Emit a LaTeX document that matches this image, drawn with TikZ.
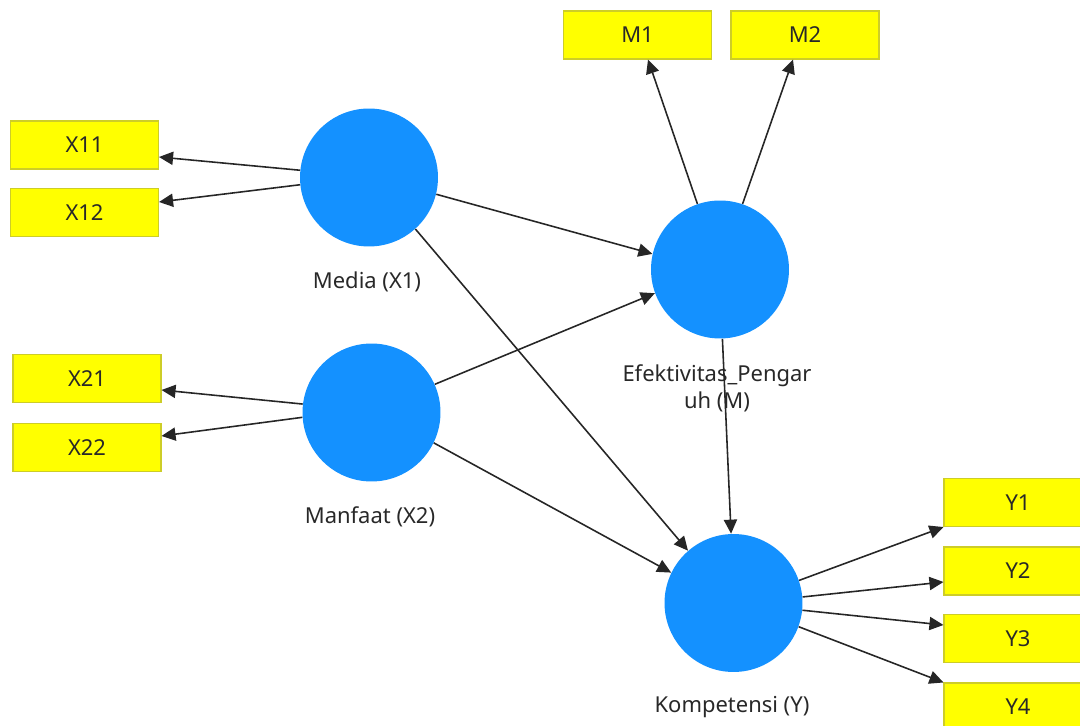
\documentclass[tikz,border=0pt]{standalone}
\usepackage{fontspec}
\setmainfont{Noto Sans}
\usetikzlibrary{arrows.meta}
\definecolor{lvblue}{RGB}{20,145,255}
\definecolor{mvyellow}{RGB}{255,255,0}
\definecolor{mvborder}{RGB}{205,205,40}
\definecolor{txt}{RGB}{40,40,40}
\begin{document}
\begin{tikzpicture}[x=0.02cm,y=-0.02cm,
  ind/.style={draw=mvborder, line width=0.6pt, fill=mvyellow, minimum width=2.96cm, minimum height=0.96cm, inner sep=0pt, font=\fontsize{12.5pt}{15pt}\selectfont, text=txt},
  lv/.style={circle, fill=lvblue, minimum size=2.76cm, inner sep=0pt},
  lbl/.style={font=\fontsize{12.5pt}{15.3pt}\selectfont, text=txt, align=center, inner sep=0pt},
  arr/.style={draw=black!85, line width=0.9pt, -{Triangle[length=8pt,width=7.5pt]}}]
\useasboundingbox (0,0) rectangle (1080,726);
\clip (0,0) rectangle (1080,726);
% indicators
\node[ind] (x11) at (84.5,145) {X11};
\node[ind] (x12) at (84.5,212.5) {X12};
\node[ind] (x21) at (87,378.5) {X21};
\node[ind] (x22) at (87,447.5) {X22};
\node[ind] (m1) at (637.5,35) {M1};
\node[ind] (m2) at (805,35) {M2};
\node[ind] (y1) at (1018,502.5) {Y1};
\node[ind] (y2) at (1018,571) {Y2};
\node[ind] (y3) at (1018,638.5) {Y3};
\node[ind] (y4) at (1018,707) {Y4};
% latent variables
\node[lv] (media) at (369,177.5) {};
\node[lv] (manfaat) at (371.5,412.5) {};
\node[lv] (efek) at (720,269.5) {};
\node[lv] (komp) at (733.5,603) {};
% labels
\node[lbl] (medialbl) at (367,282) {Media (X1)};
\node[lbl] (manfaatlbl) at (370,517) {Manfaat (X2)};
\node[lbl] (efeklbl) at (717,388.5) {Efektivitas\_Pengar\\uh (M)};
\node[lbl] (komplbl) at (732,707) {Kompetensi (Y)};
% outer model arrows
\draw[arr] (media.174.6) -- ([yshift=-0.24cm]x11.east);
\draw[arr] (media.186.2) -- ([yshift=0.21cm]x12.east);
\draw[arr] (manfaat.173.8) -- ([yshift=-0.23cm]x21.east);
\draw[arr] (manfaat.184.5) -- ([yshift=0.23cm]x22.east);
\draw[arr] (efek.109) -- ([xshift=0.21cm]m1.south);
\draw[arr] (efek.71) -- ([xshift=-0.24cm]m2.south);
\draw[arr] (komp.19) -- (y1.south west);
\draw[arr] (komp.5) -- ([yshift=-0.22cm]y2.west);
\draw[arr] (komp.-6.6) -- ([yshift=0.27cm]y3.west);
\draw[arr] (komp.-20) -- (y4.north west);
% inner model arrows
\draw[arr] (media.-14) -- (efek.167);
\draw[arr] (media.-48.8) -- (komp.131);
\draw[arr] (manfaat.24) -- (efek.200);
\draw[arr] (manfaat.-26) -- (komp.154);
\draw[arr] (efek.-88) -- (komp.92);
\end{tikzpicture}
\end{document}
